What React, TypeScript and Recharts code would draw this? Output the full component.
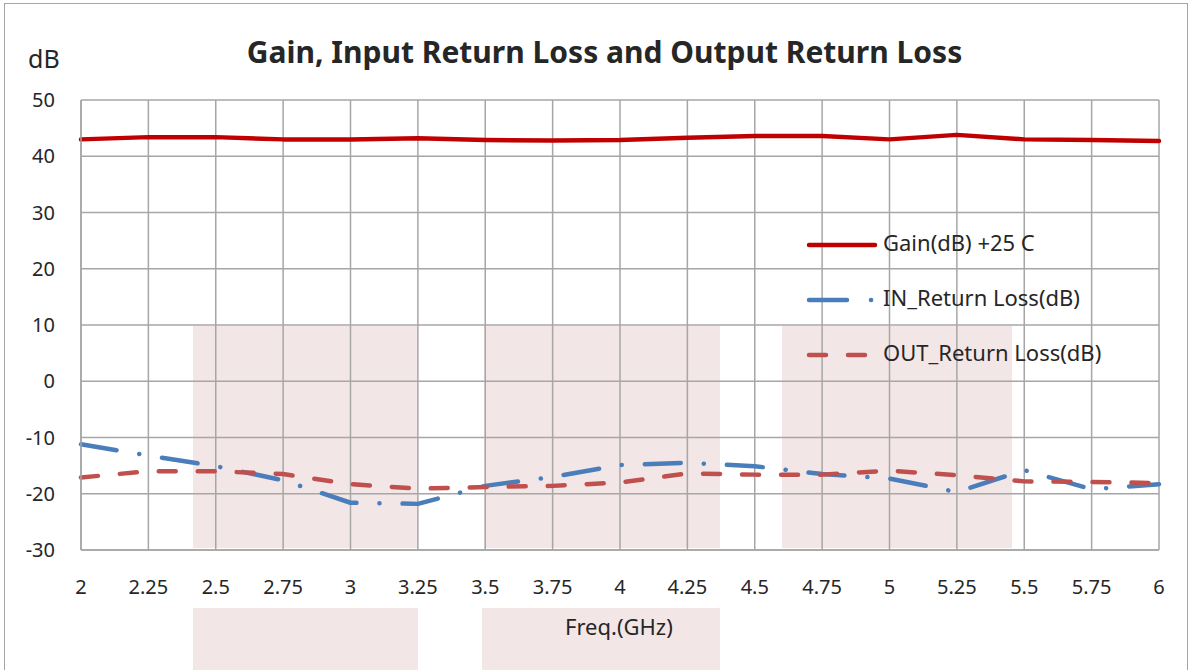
import { LineChart, Line, XAxis, YAxis, CartesianGrid } from 'recharts';

const FONT = '"Noto Sans", "Open Sans", sans-serif';
const GRID = '#a6a6a6';
const TEXT = '#262626';
const PINK = '#f3e6e6';

// frequency points (GHz)
const FREQ = [2, 2.25, 2.5, 2.75, 3, 3.25, 3.5, 3.75, 4, 4.25, 4.5, 4.75, 5, 5.25, 5.5, 5.75, 6];
const Y_TICKS = [-30, -20, -10, 0, 10, 20, 30, 40, 50];

const GAIN = [43.0, 43.4, 43.4, 43.0, 43.0, 43.2, 42.9, 42.8, 42.9, 43.3, 43.6, 43.6, 43.0, 43.8, 43.0, 42.9, 42.7];
const IN_RL = [-11.2, -13.2, -15.1, -17.6, -21.6, -21.8, -18.6, -17.0, -14.9, -14.5, -15.1, -16.5, -17.3, -19.7, -15.8, -19.2, -18.3];
const OUT_RL = [-17.1, -16.0, -16.0, -16.5, -18.3, -19.1, -18.8, -18.6, -18.0, -16.4, -16.6, -16.6, -15.9, -16.7, -17.8, -17.9, -18.1];

const SERIES = [
  { key: 'gain', name: 'Gain(dB) +25 C', color: '#c00000', dash: undefined as string | undefined },
  { key: 'inRL', name: 'IN_Return Loss(dB)', color: '#4a7ebb', dash: '36 23 0.1 23' },
  { key: 'outRL', name: 'OUT_Return Loss(dB)', color: '#c0504d', dash: '17 22' },
];

// faint background blocks behind the plot (watermark)
const BLOCKS = [
  { left: 193, top: 326, width: 225, height: 222 },
  { left: 484, top: 326, width: 236, height: 222 },
  { left: 782, top: 326, width: 230, height: 222 },
  { left: 193, top: 608, width: 225, height: 70 },
  { left: 482, top: 608, width: 238, height: 70 },
];

function Legend() {
  const rows = [245, 300, 355];
  return (
    <div style={{ position: 'absolute', left: 800, top: 225, width: 360, height: 150 }}>
      <svg width={90} height={150} style={{ position: 'absolute', left: 0, top: 0 }}>
        {SERIES.map((s, i) => (
          <line
            key={s.key}
            x1={9} x2={i === 1 ? 73 : 75}
            y1={rows[i] - 225} y2={rows[i] - 225}
            stroke={s.color}
            strokeWidth={4.5}
            strokeLinecap="round"
            strokeDasharray={i === 1 ? '38 24 0.1 30' : i === 2 ? '17 22' : undefined}
          />
        ))}
      </svg>
      {SERIES.map((s, i) => (
        <div
          key={s.key}
          style={{
            position: 'absolute', left: 83, top: rows[i] - 225 - 14,
            fontSize: 22, lineHeight: 1, color: TEXT, whiteSpace: 'nowrap',
          }}
        >
          {s.name}
        </div>
      ))}
    </div>
  );
}

export default function App() {
  const data = FREQ.map((f, i) => ({ f, gain: GAIN[i], inRL: IN_RL[i], outRL: OUT_RL[i] }));

  return (
    <div style={{ position: 'absolute', left: 0, top: 0, width: 1190, height: 670, overflow: 'hidden', background: '#fff', fontFamily: FONT }}>
      <div style={{ position: 'absolute', left: 4, top: 3, width: 1182, height: 720, border: '1.5px solid #a6a6a6' }} />
      {BLOCKS.map((b, i) => (
        <div key={i} style={{ position: 'absolute', ...b, background: PINK }} />
      ))}

      <div style={{ position: 'absolute', left: 0, top: 0 }}>
        <LineChart width={1190} height={670} data={data} margin={{ top: 100, right: 31, bottom: 80, left: 21 }}>
          <CartesianGrid stroke={GRID} strokeWidth={1.5} />
          <XAxis
            dataKey="f"
            type="number"
            domain={[2, 6]}
            ticks={FREQ}
            interval={0}
            height={40}
            tickLine={false}
            axisLine={{ stroke: GRID, strokeWidth: 1.5 }}
            tickMargin={24}
            tick={{ fontSize: 20, fill: TEXT, fontFamily: FONT }}
            tickFormatter={(v: number) => String(v)}
          />
          <YAxis
            type="number"
            domain={[-30, 50]}
            ticks={Y_TICKS}
            interval={0}
            width={60}
            tickLine={false}
            axisLine={{ stroke: GRID, strokeWidth: 1.5 }}
            tickMargin={20}
            tick={{ fontSize: 20, fill: TEXT, fontFamily: FONT }}
          />
          {SERIES.map(s => (
            <Line
              key={s.key}
              type="linear"
              dataKey={s.key}
              name={s.name}
              stroke={s.color}
              strokeWidth={4.5}
              strokeDasharray={s.dash}
              strokeLinecap="round"
              strokeLinejoin="round"
              dot={false}
              activeDot={false}
              isAnimationActive={false}
            />
          ))}
        </LineChart>
      </div>

      <div style={{ position: 'absolute', left: 0, top: 37, width: 1209, textAlign: 'center', fontSize: 30, fontWeight: 700, lineHeight: 1, color: TEXT, whiteSpace: 'nowrap' }}>
        Gain, Input Return Loss and Output Return Loss
      </div>
      <div style={{ position: 'absolute', left: 28, top: 46, fontSize: 25, lineHeight: 1, color: TEXT }}>dB</div>
      <div style={{ position: 'absolute', left: 565, top: 615, fontSize: 22, lineHeight: 1, color: TEXT }}>Freq.(GHz)</div>
      <Legend />
    </div>
  );
}
